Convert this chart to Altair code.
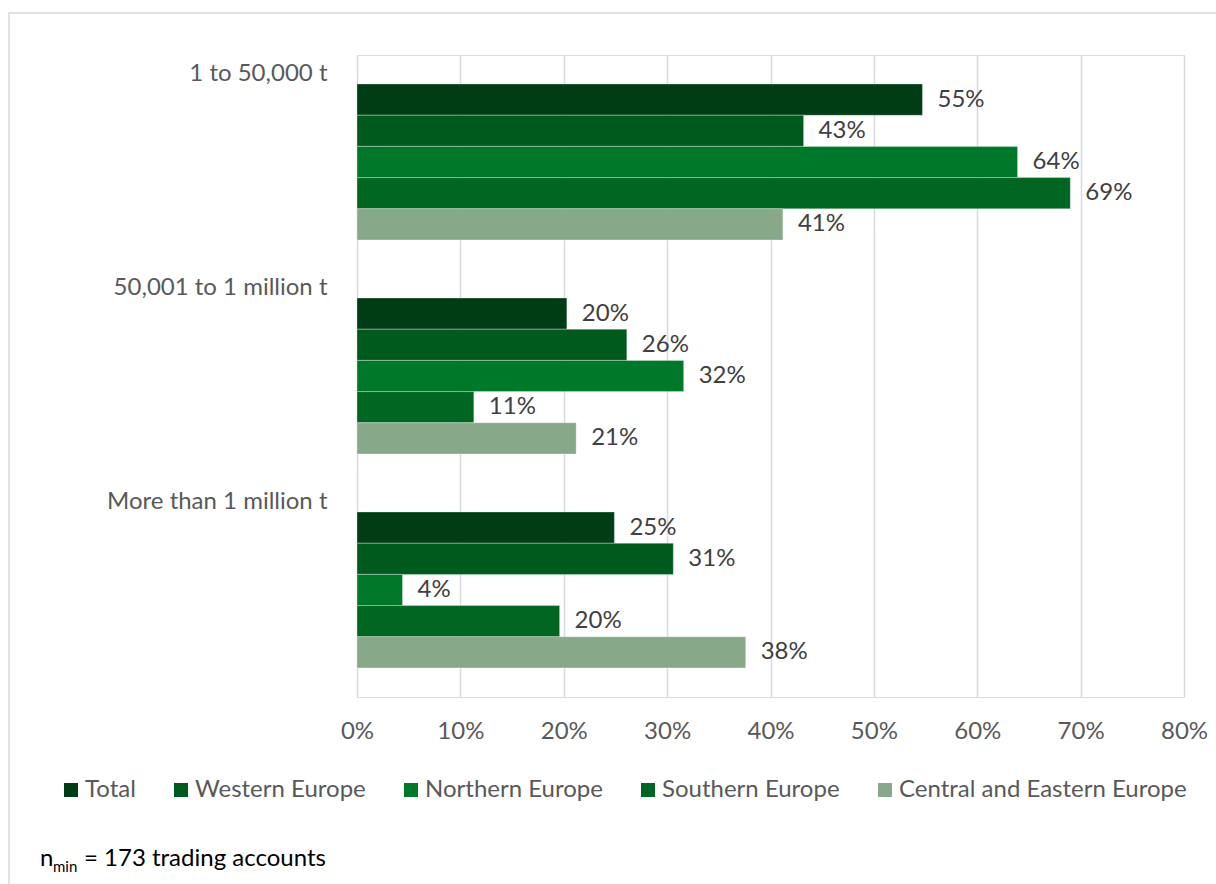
import altair as alt
import pandas as pd

categories = ["1 to 50,000 t", "50,001 to 1 million t", "More than 1 million t"]
series = ["Total", "Western Europe", "Northern Europe", "Southern Europe", "Central and Eastern Europe"]
colors = ["#003d14", "#005a1e", "#00782a", "#006622", "#87a889"]

# shares (%) per category, in series order
vals_small = [54.7, 43.2, 63.9, 69.0, 41.2]
vals_mid = [20.3, 26.1, 31.6, 11.3, 21.2]
vals_large = [24.9, 30.6, 4.4, 19.6, 37.6]
x_ticks = [0, 0.1, 0.2, 0.3, 0.4, 0.5, 0.6, 0.7, 0.8]

rows = []
for cat, vals in zip(categories, [vals_small, vals_mid, vals_large]):
    for s, v in zip(series, vals):
        rows.append({"cat": cat, "series": s, "value": v / 100})
df = pd.DataFrame(rows)

FONT = "Lato"
W, H = 827, 642

y_enc = alt.Y("cat:N", sort=categories, title=None,
              scale=alt.Scale(paddingInner=0, paddingOuter=0),
              axis=alt.Axis(domain=False, ticks=False, grid=False, labelFont=FONT,
                            labelFontSize=24, labelColor="#595959", labelPadding=30,
                            labelOffset=-88, labelLimit=400))
yoff = alt.YOffset("series:N", sort=series,
                   scale=alt.Scale(paddingInner=0, paddingOuter=0.93))
x_enc = alt.X("value:Q", title=None,
              scale=alt.Scale(domain=[0, 0.8], nice=False),
              axis=alt.Axis(values=x_ticks, format=".0%", domain=False, ticks=False,
                            grid=True, gridColor="#d9d9d9", gridWidth=1.5,
                            labelFlush=False, labelBound=False,
                            labelFont=FONT, labelFontSize=24, labelColor="#595959",
                            labelPadding=22))

bars = alt.Chart(df).mark_bar(stroke="#ffffff", strokeOpacity=0.3, strokeWidth=1).encode(
    x=x_enc, y=y_enc, yOffset=yoff,
    color=alt.Color("series:N", sort=series, title=None,
                    scale=alt.Scale(domain=series, range=colors),
                    legend=alt.Legend(orient="none", legendX=-298, legendY=723,
                                      direction="horizontal", columns=5, columnPadding=33,
                                      padding=0, symbolType="square", symbolSize=196,
                                      symbolStrokeWidth=0, labelOffset=2,
                                      labelFont=FONT, labelFontSize=24,
                                      labelColor="#595959", labelLimit=0)),
)

labels = alt.Chart(df).mark_text(align="left", baseline="middle", dx=15,
                                 font=FONT, fontSize=24, color="#404040").encode(
    x="value:Q", y=alt.Y("cat:N", sort=categories), yOffset=alt.YOffset("series:N", sort=series),
    text=alt.Text("value:Q", format=".0%"),
)

one = pd.DataFrame({"k": [0]})
frame = alt.Chart(one).mark_rect(fillOpacity=0, stroke="#d9d9d9", strokeWidth=1.5).encode(
    x=alt.value(-348), x2=alt.value(880), y=alt.value(-42), y2=alt.value(850))

fn_n = alt.Chart(one).mark_text(align="left", baseline="alphabetic", font=FONT,
                                fontSize=24, color="#000000").encode(
    x=alt.value(-317), y=alt.value(811), text=alt.value("n"))
fn_sub = alt.Chart(one).mark_text(align="left", baseline="alphabetic", font=FONT,
                                  fontSize=15, color="#000000").encode(
    x=alt.value(-304), y=alt.value(817), text=alt.value("min"))
fn_rest = alt.Chart(one).mark_text(align="left", baseline="alphabetic", font=FONT,
                                   fontSize=24, color="#000000").encode(
    x=alt.value(-273), y=alt.value(811), text=alt.value("= 173 trading accounts"))

chart = alt.layer(frame, bars, labels, fn_n, fn_sub, fn_rest).properties(
    width=W, height=H,
    autosize=alt.AutoSizeParams(type="none"),
    padding={"left": 357, "top": 55, "right": 32, "bottom": 187},
).configure_view(stroke=None).configure(background="#ffffff")

chart.save("out.html", embed_options={"renderer": "svg", "actions": False})
